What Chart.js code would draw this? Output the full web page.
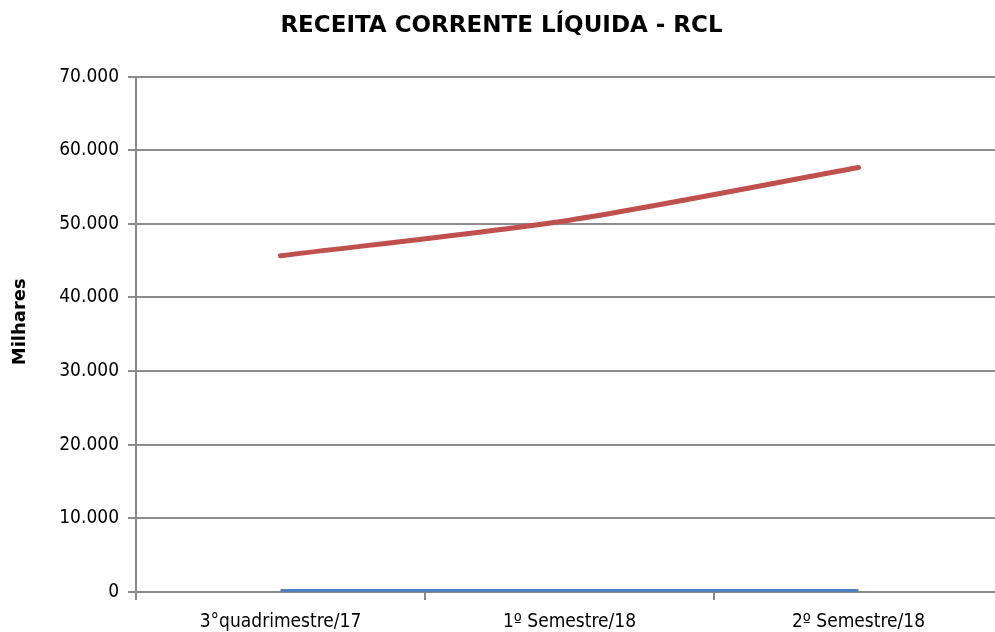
<!DOCTYPE html>
<html><head><meta charset="utf-8">
<script src="https://cdn.jsdelivr.net/npm/chart.js@4"></script>
<style>html,body{margin:0;padding:0;overflow:hidden;background:#fff}#wrap{width:1003px;height:632px;position:relative}</style>
</head><body><div id="wrap"><canvas id="c"></canvas></div>
<script>
const categories = ["3°quadrimestre/17", "1º Semestre/18", "2º Semestre/18"];
const rclValues = [45670, 50500, 57650];
const baseValues = [120, 120, 120];
const yTicks = [0, 10000, 20000, 30000, 40000, 50000, 60000, 70000];
const titleText = "RECEITA CORRENTE LÍQUIDA - RCL";
const yTitle = "Milhares";

const FONT = "'DejaVu Sans Condensed', 'DejaVu Sans', sans-serif";
const BFONT = "'DejaVu Sans', sans-serif";
const fmt = v => v === 0 ? "0" : v.toLocaleString('de-DE');

new Chart(document.getElementById('c'), {
  type: 'line',
  data: {
    labels: categories,
    datasets: [
      { label: 'base', data: baseValues, borderColor: '#4F81BD', borderWidth: 4, pointRadius: 0, borderCapStyle: 'butt', tension: 0 },
      { label: 'RCL', data: rclValues, borderColor: '#C0504D', borderWidth: 5, pointRadius: 0, borderCapStyle: 'round', tension: 0.25 }
    ]
  },
  options: {
    responsive: true, maintainAspectRatio: false, animation: false,
    layout: { padding: { left: 0, right: 0, top: 0, bottom: 0 } },
    plugins: {
      legend: { display: false },
      tooltip: { enabled: false },
      title: { display: true, text: titleText, color: '#000', font: { family: BFONT, size: 23, weight: 'bold' }, padding: { top: 12, bottom: 37 } }
    },
    scales: {
      x: {
        offset: true,
        grid: { offset: true, drawOnChartArea: false, drawTicks: true, tickLength: 8, color: '#888', lineWidth: 2 },
        border: { display: true, color: '#888', width: 2 },
        ticks: { color: '#000', font: { family: FONT, size: 19 }, padding: 11, maxRotation: 0 },
        afterFit: s => { s.height = 40; }
      },
      y: {
        min: 0, max: 70000,
        afterBuildTicks: s => { s.ticks = yTicks.map(v => ({ value: v })); },
        grid: { color: '#8c8c8c', lineWidth: 2, drawTicks: true, tickLength: 8 },
        border: { display: true, color: '#888', width: 2 },
        ticks: { color: '#000', font: { family: FONT, size: 19 }, padding: 9, callback: v => fmt(v) },
        title: { display: true, text: "    " + yTitle, color: '#000', font: { family: BFONT, size: 18, weight: 'bold' }, padding: { top: 10, bottom: 0 } },
        afterFit: s => { s.width = 136; }
      }
    }
  }
});
</script></body></html>
